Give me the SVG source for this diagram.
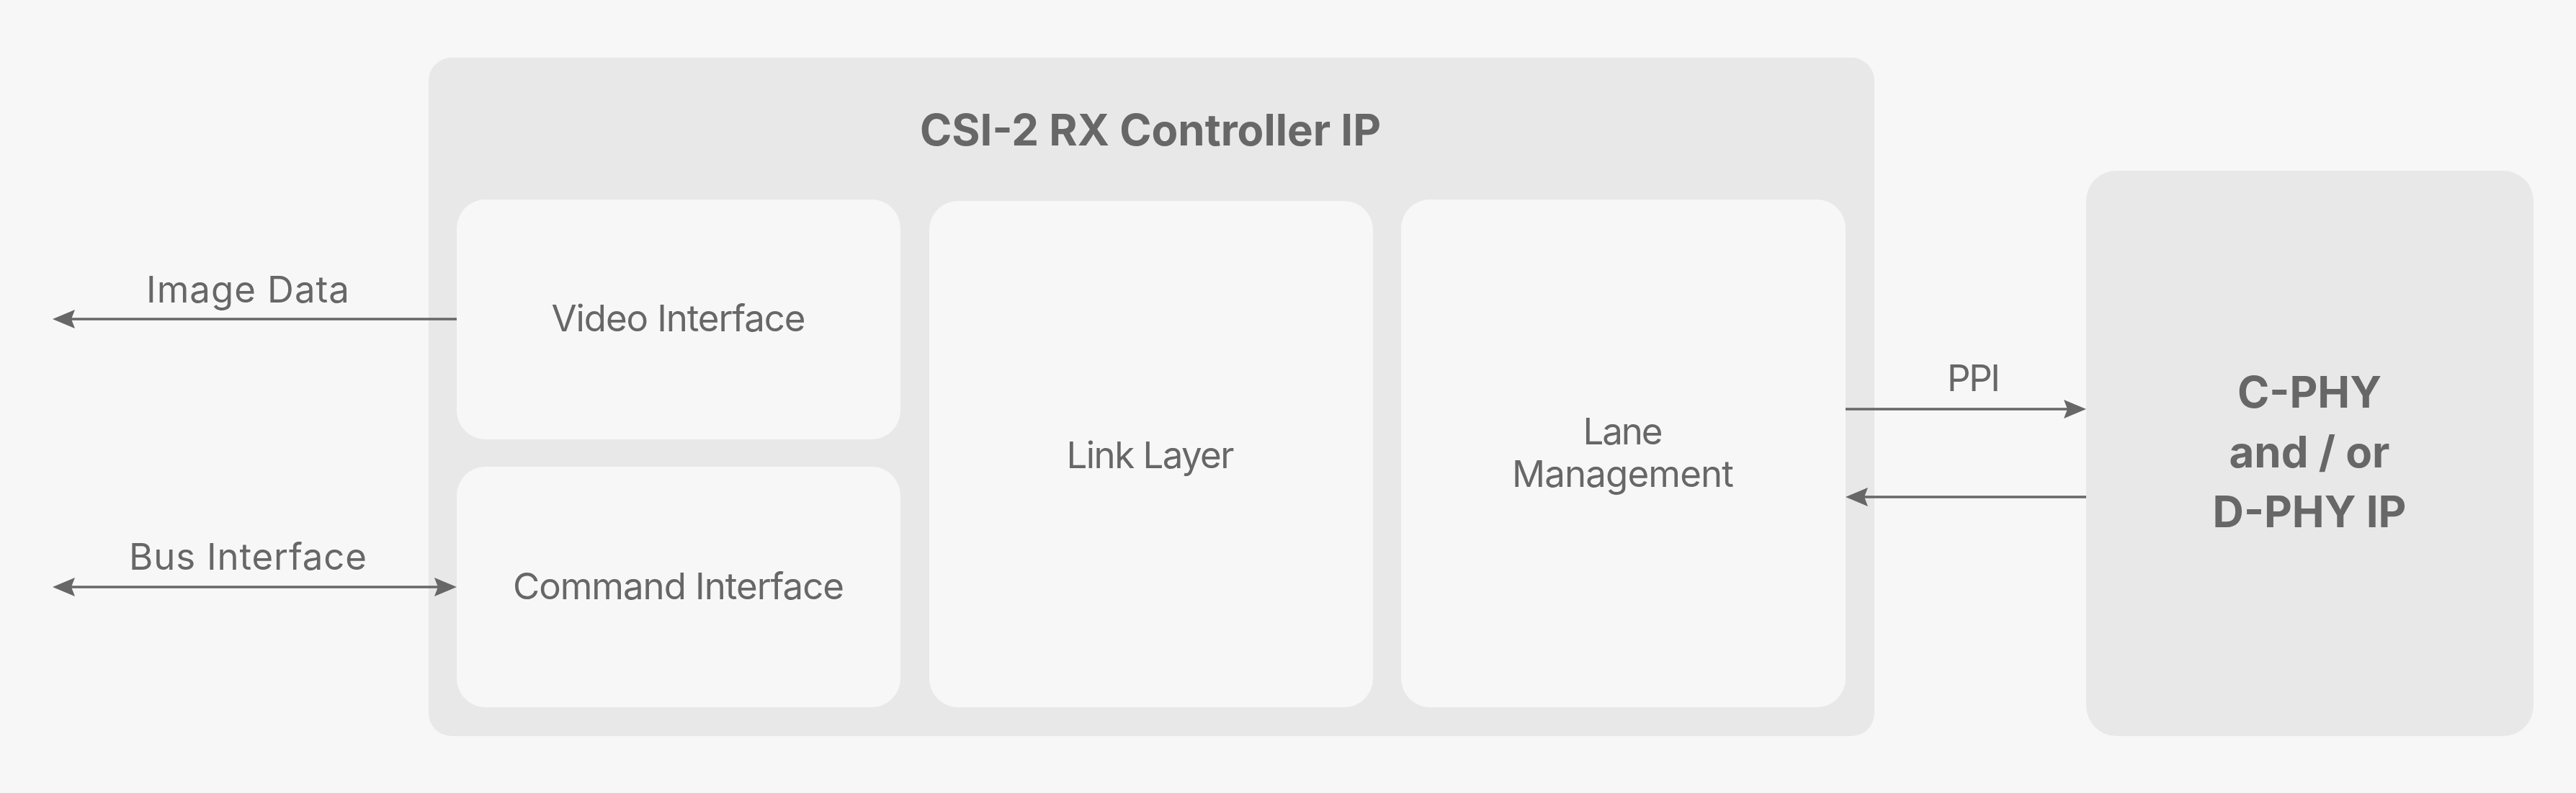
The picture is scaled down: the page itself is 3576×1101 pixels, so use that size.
<svg xmlns="http://www.w3.org/2000/svg" width="3576" height="1101" viewBox="0 0 3576 1101">
<style>
.bg{fill:#f7f7f7}
.outer{fill:#e8e8e8}
.inner{fill:#f7f7f7}
.phy{fill:#e8e8e8}
.t{font-family:Inter,"Noto Sans","Liberation Sans",sans-serif;fill:#676767;text-anchor:middle}
.n{font-size:51px;font-weight:400}
.b{font-size:60px;font-weight:700}
.conn{stroke:#676767;stroke-width:3.5;fill:none}
</style>
<defs>
<marker id="ah" markerUnits="userSpaceOnUse" markerWidth="31" markerHeight="26" viewBox="0 0 31 26" refX="11" refY="13" orient="auto-start-reverse">
<path d="M0,0 L31,13 L0,26 L5,13 Z" fill="#676767"/>
</marker>
</defs>
<rect class="bg" x="0" y="0" width="3576" height="1101"/>
<g id="csi2-controller">
<rect class="outer" x="595" y="80" width="2007" height="942" rx="32"/>
<text class="t b" x="1597" y="202">CSI-2 RX Controller IP</text>
</g>
<g id="video-interface">
<rect class="inner" x="634" y="277" width="616" height="333" rx="40"/>
<text class="t n" x="942" y="460" textLength="353">Video Interface</text>
</g>
<g id="command-interface">
<rect class="inner" x="634" y="648" width="616" height="334" rx="40"/>
<text class="t n" x="942" y="832" textLength="460">Command Interface</text>
</g>
<g id="link-layer">
<rect class="inner" x="1290" y="279" width="616" height="703" rx="40"/>
<text class="t n" x="1597" y="650" textLength="233">Link Layer</text>
</g>
<g id="lane-management">
<rect class="inner" x="1945" y="277" width="617" height="705" rx="40"/>
<text class="t n" x="2253" y="617" textLength="111">Lane</text>
<text class="t n" x="2253" y="676" textLength="308">Management</text>
</g>
<g id="phy-ip">
<rect class="phy" x="2896" y="237" width="621" height="785" rx="42"/>
<text class="t b" x="3206" y="566">C-PHY</text>
<text class="t b" x="3206" y="649">and / or</text>
<text class="t b" x="3206" y="732">D-PHY IP</text>
</g>
<g id="connectors">
<path class="conn" d="M634,443 H93" marker-end="url(#ah)"/>
<text class="t n" x="344" y="420" textLength="282">Image Data</text>
<path class="conn" d="M93,815 H614" marker-start="url(#ah)" marker-end="url(#ah)"/>
<text class="t n" x="344" y="791" textLength="330">Bus Interface</text>
<path class="conn" d="M2562,568 H2876" marker-end="url(#ah)"/>
<text class="t n" x="2740" y="543" textLength="74">PPI</text>
<path class="conn" d="M2896,690 H2582" marker-end="url(#ah)"/>
</g>
</svg>
